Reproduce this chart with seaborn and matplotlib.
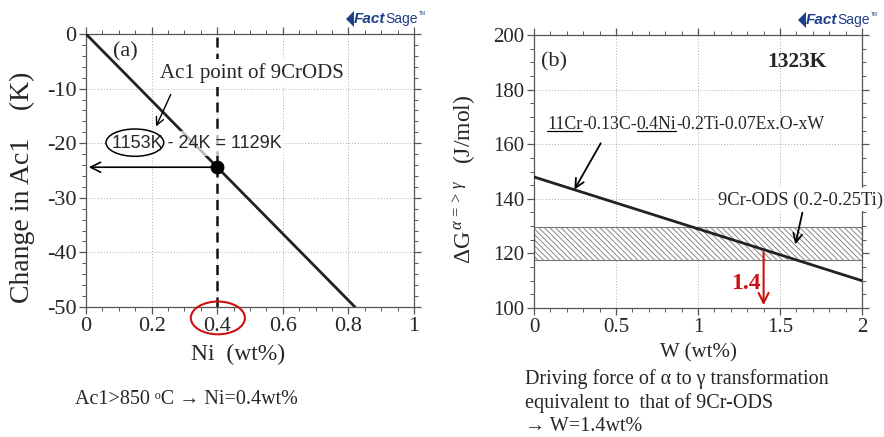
import numpy as np
import pandas as pd
import matplotlib
matplotlib.use("Agg")
import matplotlib.pyplot as plt
import seaborn as sns
from matplotlib.patches import Ellipse, Rectangle, Polygon
from matplotlib.lines import Line2D
from matplotlib.ticker import MultipleLocator, FixedLocator, FixedFormatter

# ---------------- data ----------------
ni_wt = [0.0, 0.82]
ac1_change = [0.0, -50.0]
ni_point = [0.4]
ac1_point = [-24.4]
ni_xticks = [0, 0.2, 0.4, 0.6, 0.8, 1.0]
ni_xticklabels = ["0", "0.2", "0.4", "0.6", "0.8", "1"]
ac1_yticks = [0, -10, -20, -30, -40, -50]
ac1_yticklabels = ["0", "-10", "-20", "-30", "-40", "-50"]

w_wt = [0.0, 0.5, 1.0, 1.5, 2.0]
dG = [148.0, 138.5, 129.0, 119.5, 110.0]
ods_band = [117.5, 129.5]
w_equiv = 1.4
dG_equiv = 121.4
w_xticks = [0, 0.5, 1.0, 1.5, 2.0]
w_xticklabels = ["0", "0.5", "1", "1.5", "2"]
dG_yticks = [100, 120, 140, 160, 180, 200]
dG_yticklabels = ["100", "120", "140", "160", "180", "200"]

# ---------------- style ----------------
sns.set_style("ticks")
plt.rcParams["font.family"] = ["Liberation Serif", "DejaVu Serif"]
plt.rcParams["mathtext.fontset"] = "custom"
plt.rcParams["mathtext.rm"] = "Liberation Serif"
plt.rcParams["mathtext.it"] = "Liberation Serif:italic"
plt.rcParams["axes.unicode_minus"] = False
plt.rcParams["hatch.color"] = "#8a8a8a"
plt.rcParams["hatch.linewidth"] = 0.6

fig = plt.figure(figsize=(8.84, 4.37), dpi=100)
W, H = 884, 437
axL = fig.add_axes([86 / W, 1 - 307 / H, 328 / W, 273 / H])
axR = fig.add_axes([534 / W, 1 - 308 / H, 328 / W, 273 / H])

def style_axes(ax, fs):
    for s in ax.spines.values():
        s.set_color("#555555")
        s.set_linewidth(0.9)
    ax.tick_params(which="both", direction="out", top=True, right=True,
                   color="#555555", labelsize=fs, pad=2)
    ax.tick_params(which="major", length=5, width=0.9)
    ax.tick_params(which="minor", length=3, width=0.7)
    ax.grid(True, which="major", linestyle=(0, (1, 2)), color="#aaaaaa", linewidth=0.7)
    ax.set_axisbelow(True)

# ---------------- panel (a) ----------------
dfa = pd.DataFrame({"Ni": ni_wt, "dAc1": ac1_change})
sns.lineplot(data=dfa, x="Ni", y="dAc1", ax=axL, color="#222222", linewidth=2.0, zorder=3)
axL.set_xlim(0, 1)
axL.set_ylim(-50, 0)
axL.xaxis.set_major_locator(FixedLocator(ni_xticks))
axL.xaxis.set_major_formatter(FixedFormatter(ni_xticklabels))
axL.yaxis.set_major_locator(FixedLocator(ac1_yticks))
axL.yaxis.set_major_formatter(FixedFormatter(ac1_yticklabels))
axL.xaxis.set_minor_locator(MultipleLocator(0.05))
axL.yaxis.set_minor_locator(MultipleLocator(2))
style_axes(axL, 16)
axL.set_xlabel("Ni  (wt%)", fontsize=17)
axL.xaxis.set_label_coords(0.465, -0.135)
axL.set_ylabel("Change in Ac1\u2003(K)", fontsize=20)
axL.yaxis.set_label_coords(-0.155, 0.44)

axL.axvline(ni_point[0], color="#111111", linestyle=(0, (4, 2.5)), linewidth=1.8, zorder=2)
dfp = pd.DataFrame({"Ni": ni_point, "dAc1": ac1_point})
sns.scatterplot(data=dfp, x="Ni", y="dAc1", ax=axL, color="black", s=85, zorder=6,
                edgecolor="black", legend=False)
axL.annotate("", xy=(0.0, ac1_point[0]), xytext=(ni_point[0], ac1_point[0]),
             arrowprops=dict(arrowstyle="->", color="black", lw=1.2, mutation_scale=18), zorder=5)

axL.text(0.12, -3.3, "(a)", fontsize=16, ha="center", va="center")
axL.text(0.226, -7.2, "Ac1 point of 9CrODS", fontsize=15, ha="left", va="center",
         bbox=dict(facecolor="white", edgecolor="none", pad=3), zorder=4)
axL.annotate("", xy=(0.21, -17.4), xytext=(0.262, -10.6),
             arrowprops=dict(arrowstyle="->", color="black", lw=1.0, mutation_scale=14), zorder=5)
axL.text(0.078, -20.0, "1153K - 24K = 1129K", fontsize=13, ha="left", va="center",
         family=["Liberation Sans", "DejaVu Sans"],
         bbox=dict(facecolor="white", edgecolor="none", alpha=0.7, pad=3), zorder=4)
axL.add_patch(Ellipse((0.149, -19.9), 0.176, 5.0, fill=False, edgecolor="black", lw=1.1, zorder=5))
axL.add_patch(Ellipse((0.402, -52.0), 0.165, 6.0, fill=False, edgecolor="#cc1111", lw=1.5,
                      zorder=5, clip_on=False))

# ---------------- panel (b) ----------------
dfb = pd.DataFrame({"W": w_wt, "dG": dG})
axR.set_xlim(0, 2)
axR.set_ylim(100, 200)
axR.add_patch(Rectangle((0, ods_band[0]), 2, ods_band[1] - ods_band[0], facecolor="white",
                        edgecolor="#777777", hatch="\\\\\\\\\\\\", linewidth=0.8, zorder=1.5))
sns.lineplot(data=dfb, x="W", y="dG", ax=axR, color="#222222", linewidth=2.0, zorder=3)
axR.xaxis.set_major_locator(FixedLocator(w_xticks))
axR.xaxis.set_major_formatter(FixedFormatter(w_xticklabels))
axR.yaxis.set_major_locator(FixedLocator(dG_yticks))
axR.yaxis.set_major_formatter(FixedFormatter(dG_yticklabels))
axR.xaxis.set_minor_locator(MultipleLocator(0.1))
axR.yaxis.set_minor_locator(MultipleLocator(5))
style_axes(axR, 15)
axR.set_xlabel("W (wt%)", fontsize=15)
axR.xaxis.set_label_coords(0.5, -0.13)
axR.set_ylabel(r"$\Delta$G$^{\,\alpha\,=>\,\gamma}$   (J/mol)", fontsize=17)
axR.yaxis.set_label_coords(-0.17, 0.47)

axR.text(0.04, 190, "(b)", fontsize=16, ha="left", va="center")
axR.text(1.6, 190, "1323K", fontsize=15.5, fontweight="bold", ha="center", va="center")

# composite label with underlines
parts = ["11Cr", "-0.13C-", "0.4Ni", "-0.2Ti-0.07Ex.O-xW"]
underl = [True, False, True, False]
arts = []
t = axR.text(0.08, 165.5, parts[0], fontsize=12.8, ha="left", va="baseline", zorder=4)
arts.append(t)
for p in parts[1:]:
    t = axR.annotate(p, xy=(1, 0), xycoords=arts[-1], fontsize=12.8, ha="left", va="bottom", zorder=4)
    arts.append(t)
axR.annotate("", xy=(0.238, 142.5), xytext=(0.415, 161.2),
             arrowprops=dict(arrowstyle="->", color="black", lw=1.3, mutation_scale=16), zorder=5)

axR.text(1.12, 139.6, "9Cr-ODS (0.2-0.25Ti)", fontsize=13.3, ha="left", va="center",
         bbox=dict(facecolor="white", edgecolor="none", pad=2), zorder=4, clip_on=False)
axR.annotate("", xy=(1.59, 122.3), xytext=(1.64, 135.9),
             arrowprops=dict(arrowstyle="->", color="black", lw=1.3, mutation_scale=16), zorder=5)

axR.annotate("", xy=(w_equiv, 100), xytext=(w_equiv, dG_equiv),
             arrowprops=dict(arrowstyle="->", color="#cc1111", lw=1.5, mutation_scale=18), zorder=5)
axR.text(1.29, 109, "1.4", fontsize=17, fontweight="bold", color="#cc1111", ha="center", va="center")

# ---------------- figure texts ----------------
fig.text(75 / W, 1 - 399 / H, "Ac1>850 \u1d52C \u2192 Ni=0.4wt%", fontsize=14.5, ha="left", va="center")
fig.text(525 / W, 1 - 369 / H,
         "Driving force of \u03b1 to \u03b3 transformation\nequivalent to  that of 9Cr-ODS\n\u2192 W=1.4wt%",
         fontsize=14.5, ha="left", va="top", linespacing=1.27)

def logo(xp, yp):
    fig.add_artist(Polygon([[(xp - 8) / W, 1 - yp / H], [xp / W, 1 - (yp - 8) / H],
                            [xp / W, 1 - (yp + 8) / H]], closed=True,
                           transform=fig.transFigure, facecolor="#1d3f8a", edgecolor="none"))
    fig.text(xp / W, 1 - yp / H, "Fact", fontsize=11, fontweight="bold", style="italic",
             color="#1d3f8a", family=["Liberation Sans"], ha="left", va="center")
    return fig.text((xp + 31) / W, 1 - yp / H, "Sage", fontsize=10, color="#1d3f8a",
                    family=["Liberation Sans"], ha="left", va="center")

sage_texts = [logo(354, 19), logo(806, 20)]

fig.canvas.draw()
r = fig.canvas.get_renderer()
# TM marks to the right of 'Sage'
for s in sage_texts:
    bb = s.get_window_extent(r)
    fig.text((bb.x1 + 1) / W, (bb.y1 + 1) / H, "TM", fontsize=3.5, color="#1d3f8a",
             family=["Liberation Sans"], ha="left", va="top")

# underlines
for a, u in zip(arts, underl):
    if u:
        bb = a.get_window_extent(r)
        y = bb.y0 + 2
        fig.add_artist(Line2D([bb.x0 / W, bb.x1 / W], [y / H, y / H],
                              transform=fig.transFigure, color="black", lw=0.9))

fig.savefig("out.png", dpi=100)
